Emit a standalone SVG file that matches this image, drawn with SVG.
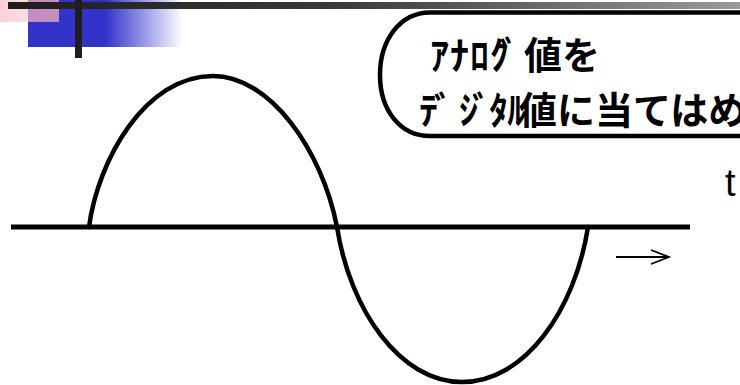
<svg xmlns="http://www.w3.org/2000/svg" width="740" height="385" viewBox="0 0 740 385">
<defs>
<linearGradient id="gBar" x1="0" y1="0" x2="1" y2="0">
<stop offset="0" stop-color="#1e1e1e"/>
<stop offset="0.45" stop-color="#3a3a3a"/>
<stop offset="1" stop-color="#9a9a9a"/>
</linearGradient>
<linearGradient id="gBlue" x1="0" y1="0" x2="1" y2="0">
<stop offset="0" stop-color="#3333cc"/>
<stop offset="0.5" stop-color="#3333cc"/>
<stop offset="1" stop-color="#3333cc" stop-opacity="0"/>
</linearGradient>
<linearGradient id="gPink" x1="0" y1="0" x2="1" y2="0">
<stop offset="0" stop-color="#ffd0d8"/>
<stop offset="1" stop-color="#ffecef"/>
</linearGradient>
<style>
.curve{fill:none;stroke:#000;stroke-width:4.5;stroke-linecap:round}
.jp{font-family:"Noto Sans CJK JP","Noto Sans",sans-serif;font-weight:700;fill:#000;font-size:38px}
</style>
</defs>
<g id="decoration">
<rect x="0" y="0" width="60" height="22" fill="url(#gPink)"/>
<rect x="28" y="0" width="155" height="47" fill="url(#gBlue)"/>
<rect x="28" y="0" width="31" height="22" fill="#c48fc0"/>
<rect x="8" y="2" width="732" height="7" fill="url(#gBar)"/>
<rect x="75" y="0" width="7" height="58" fill="#1e1e1e"/>
</g>
<g id="callout">
<path d="M760,12.5 H430 C400,12.5 380,40 380,75 C380,110 400,136 430,136 H760" fill="#fff" stroke="#000" stroke-width="4.5"/>
<text class="jp" x="430 450 470 490 500" y="69">ｱﾅﾛｸﾞ</text>
<text class="jp" x="524" y="69">値を</text>
<text class="jp" x="419 434 459 472 489 507" y="124">ﾃﾞｼﾞﾀﾙ</text>
<text class="jp" x="519" y="124">値に当てはめ</text>
</g>
<g id="axis">
<line x1="11" y1="227" x2="690" y2="227" stroke="#000" stroke-width="5"/>
<text x="725" y="196" font-family="Liberation Sans, Arial, sans-serif" font-size="38" fill="#000">t</text>
<path d="M616,257 H668 M651,250 L669,257 L651,264" fill="none" stroke="#000" stroke-width="1.8"/>
</g>
<g id="connectors">
<path class="curve" d="M89,227 C98,160 145,76 213,76 C270,76 322,150 337,227 C350,310 400,382 462,382 C525,382 575,310 588,227"/>
</g>
</svg>
